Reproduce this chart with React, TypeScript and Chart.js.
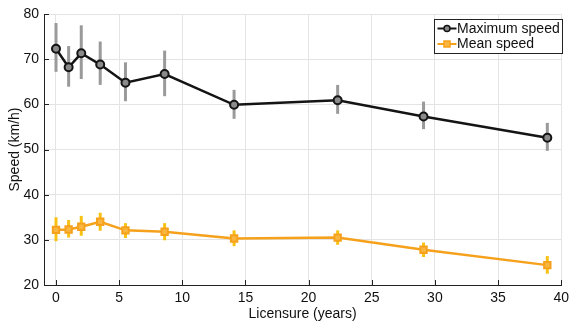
import React, { useEffect, useRef } from "react";
import { Chart, registerables } from "chart.js";

Chart.register(...registerables);

const licensure = [0, 1.0, 2.0, 3.5, 5.5, 8.6, 14.1, 22.3, 29.1, 38.9];
const maxSpeed = [72.3, 68.2, 71.3, 68.8, 64.8, 66.7, 59.9, 60.9, 57.3, 52.6];
const maxLow = [67.2, 63.9, 65.6, 64.3, 60.7, 61.8, 56.8, 57.9, 54.5, 49.7];
const maxHigh = [78.0, 72.9, 77.5, 73.9, 69.3, 71.9, 63.2, 64.3, 60.6, 55.9];
const meanSpeed = [32.2, 32.3, 32.9, 34.0, 32.1, 31.8, 30.3, 30.5, 27.8, 24.4];
const meanLow = [29.7, 30.5, 30.9, 32.0, 30.4, 29.9, 28.6, 28.9, 26.2, 22.5];
const meanHigh = [35.0, 34.4, 35.3, 36.0, 33.7, 33.7, 32.1, 32.1, 29.4, 26.4];
const xTicks = [0, 5, 10, 15, 20, 25, 30, 35, 40];
const yTicks = [20, 30, 40, 50, 60, 70, 80];
const seriesNames = ["Maximum speed", "Mean speed"];

const FONT = "'Liberation Sans', Arial, Helvetica, sans-serif";
const MAX_COLOR = "#141414";
const MAX_ERR = "#9a9a9a";
const MEAN_COLOR = "#f6a11c";
const MEAN_ERR = "#f8c213";

const errorBarPlugin = {
  id: "errorBars",
  beforeDatasetsDraw(chart: any) {
    const { ctx, scales } = chart;
    const xs = scales.x;
    const ys = scales.y;
    const sets = [
      { lo: maxLow, hi: maxHigh, color: MAX_ERR },
      { lo: meanLow, hi: meanHigh, color: MEAN_ERR },
    ];
    ctx.save();
    sets.forEach((s) => {
      ctx.strokeStyle = s.color;
      ctx.lineWidth = 3;
      licensure.forEach((x, i) => {
        const px = xs.getPixelForValue(x);
        ctx.beginPath();
        ctx.moveTo(px, ys.getPixelForValue(s.lo[i]));
        ctx.lineTo(px, ys.getPixelForValue(s.hi[i]));
        ctx.stroke();
      });
    });
    ctx.restore();
  },
};

const frameAndLegendPlugin = {
  id: "frameLegend",
  afterDraw(chart: any) {
    const { ctx, scales, chartArea } = chart;
    const xs = scales.x;
    const ys = scales.y;
    ctx.save();
    ctx.strokeStyle = "#222";
    ctx.lineWidth = 1;
    xTicks.forEach((v) => {
      const px = Math.round(xs.getPixelForValue(v)) + 0.5;
      ctx.beginPath();
      ctx.moveTo(px, chartArea.bottom);
      ctx.lineTo(px, chartArea.bottom - 5);
      ctx.stroke();
    });
    yTicks.forEach((v) => {
      const py = Math.round(ys.getPixelForValue(v)) + 0.5;
      ctx.beginPath();
      ctx.moveTo(chartArea.left, py);
      ctx.lineTo(chartArea.left + 5, py);
      ctx.stroke();
    });
    // legend
    const bx = 434.5, by = 19.5, bw = 128, bh = 34;
    ctx.fillStyle = "#ffffff";
    ctx.fillRect(bx, by, bw, bh);
    ctx.strokeStyle = "#222";
    ctx.lineWidth = 1;
    ctx.strokeRect(bx, by, bw, bh);
    ctx.font = `14px ${FONT}`;
    ctx.textBaseline = "middle";
    ctx.textAlign = "left";
    const rows = [
      { y: by + 9, color: MAX_COLOR, fill: "#8a8a8a", shape: "circle" },
      { y: by + 24.5, color: MEAN_COLOR, fill: "#f9b640", shape: "rect" },
    ];
    rows.forEach((r, i) => {
      ctx.strokeStyle = r.color;
      ctx.lineWidth = 2;
      ctx.beginPath();
      ctx.moveTo(bx + 3, r.y);
      ctx.lineTo(bx + 22, r.y);
      ctx.stroke();
      const cx = bx + 12.5;
      ctx.fillStyle = r.fill;
      ctx.lineWidth = 1.5;
      if (r.shape === "circle") {
        ctx.beginPath();
        ctx.arc(cx, r.y, 3, 0, Math.PI * 2);
        ctx.fill();
        ctx.stroke();
      } else {
        ctx.fillRect(cx - 3, r.y - 3, 6, 6);
        ctx.strokeRect(cx - 3, r.y - 3, 6, 6);
      }
      ctx.fillStyle = "#111";
      ctx.fillText(seriesNames[i], bx + 22.5, r.y + 0.5);
    });
    ctx.restore();
  },
};

export default function App() {
  const ref = useRef<HTMLCanvasElement | null>(null);
  useEffect(() => {
    if (!ref.current) return;
    const chart = new Chart(ref.current, {
      type: "line",
      data: {
        datasets: [
          {
            label: seriesNames[0],
            data: licensure.map((x, i) => ({ x, y: maxSpeed[i] })),
            borderColor: MAX_COLOR,
            borderWidth: 2.5,
            pointStyle: "circle",
            pointRadius: 4,
            pointBackgroundColor: "#8a8a8a",
            pointBorderColor: MAX_COLOR,
            pointBorderWidth: 2,
            tension: 0,
          },
          {
            label: seriesNames[1],
            data: licensure.map((x, i) => ({ x, y: meanSpeed[i] })),
            borderColor: MEAN_COLOR,
            borderWidth: 2.5,
            pointStyle: "rect",
            pointRadius: 4.5,
            pointBackgroundColor: "#f9b640",
            pointBorderColor: MEAN_COLOR,
            pointBorderWidth: 2,
            tension: 0,
          },
        ],
      },
      options: {
        responsive: false,
        animation: false,
        layout: { padding: { left: 7, right: 6, top: 14, bottom: 0 } },
        plugins: {
          legend: { display: false },
          tooltip: { enabled: false },
        },
        scales: {
          x: {
            type: "linear",
            min: -0.95,
            max: 40,
            afterBuildTicks: (s: any) => {
              s.ticks = xTicks.map((v) => ({ value: v }));
            },
            afterFit: (s: any) => {
              s.height = 39;
            },
            grid: { color: "#e4e4e4", lineWidth: 1, drawTicks: false },
            border: { color: "#222", width: 1 },
            ticks: {
              color: "#111",
              font: { family: FONT, size: 14 },
              padding: 5,
              maxRotation: 0,
            },
            title: {
              display: true,
              text: "Licensure (years)",
              color: "#111",
              font: { family: FONT, size: 14 },
              padding: { top: 0, bottom: 1 },
            },
          },
          y: {
            type: "linear",
            min: 20,
            max: 80,
            afterBuildTicks: (s: any) => {
              s.ticks = yTicks.map((v) => ({ value: v }));
            },
            afterFit: (s: any) => {
              s.width = 37;
            },
            grid: { color: "#e4e4e4", lineWidth: 1, drawTicks: false },
            border: { color: "#222", width: 1 },
            ticks: {
              color: "#111",
              font: { family: FONT, size: 14 },
              padding: 5,
            },
            title: {
              display: true,
              text: "Speed (km/h)",
              color: "#111",
              font: { family: FONT, size: 14 },
              padding: { top: 0, bottom: 0 },
            },
          },
        },
      },
      plugins: [errorBarPlugin, frameAndLegendPlugin],
    } as any);
    return () => chart.destroy();
  }, []);
  return (
    <div style={{ position: "fixed", left: 0, top: 0, width: 574, height: 324, background: "#fff" }}>
      <canvas ref={ref} width={574} height={324} style={{ display: "block" }} />
    </div>
  );
}
